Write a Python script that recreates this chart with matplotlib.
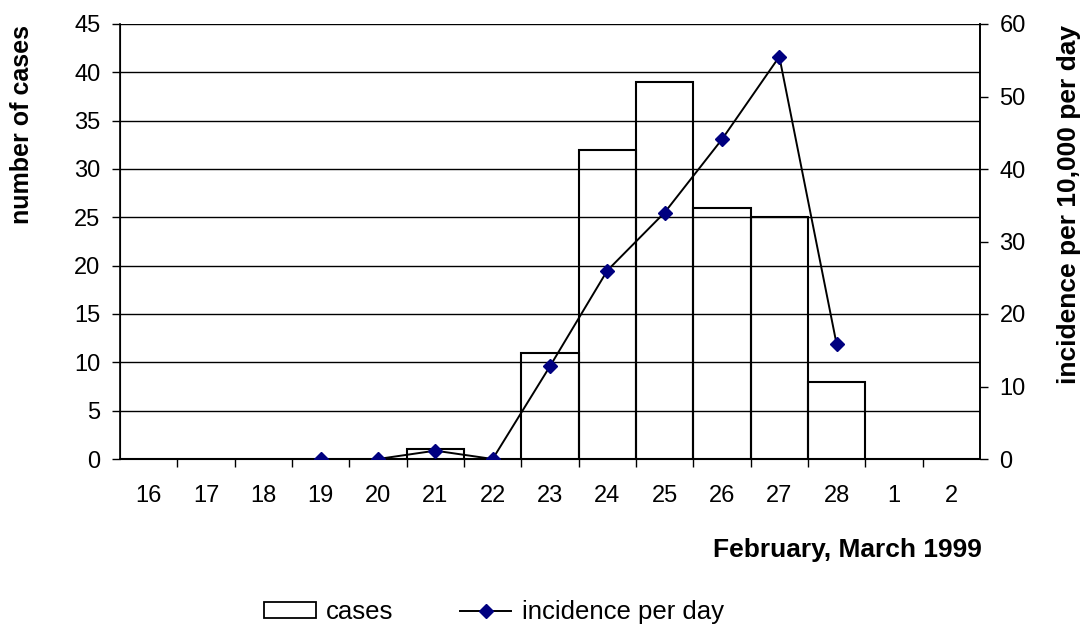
import matplotlib.pyplot as plt
from matplotlib.lines import Line2D
from matplotlib.patches import Patch

plt.rcParams['font.family'] = ['Liberation Sans', 'DejaVu Sans']

days = ['16', '17', '18', '19', '20', '21', '22', '23', '24', '25', '26', '27', '28', '1', '2']
cases = [0, 0, 0, 0, 0, 1, 0, 11, 32, 39, 26, 25, 8, 0, 0]
# incidence per 10,000 per day, only reported 19 Feb - 28 Feb
inc_days = ['19', '20', '21', '22', '23', '24', '25', '26', '27', '28']
incidence = [0, 0, 1.15, 0, 12.8, 26, 34, 44.1, 55.5, 15.8]

fig = plt.figure(figsize=(10.84, 6.28), dpi=100)
ax = fig.add_axes([120 / 1084, 1 - 459 / 628, 860 / 1084, 435 / 628])

x = list(range(len(days)))
ax.bar(x, cases, width=1.0, facecolor='none', edgecolor='black', linewidth=1.5, zorder=3)
ax.set_xlim(-0.5, len(days) - 0.5)
ax.set_ylim(0, 45)
ax.set_yticks(range(0, 46, 5))
ax.yaxis.grid(True, color='black', linewidth=1.0, zorder=0)
ax.set_axisbelow(True)
ax.set_xticks(x)
ax.set_xticklabels(days)
ax.set_xticks([i + 0.5 for i in x[:-1]], minor=True)
ax.tick_params(axis='x', which='major', length=0, pad=19, labelsize=17)
ax.tick_params(axis='x', which='minor', length=6, width=1, direction='out')
ax.tick_params(axis='y', length=6, width=1, labelsize=17, pad=8)
ax.spines['top'].set_visible(False)
for s in ['left', 'bottom', 'right']:
    ax.spines[s].set_linewidth(1.2)

ax2 = ax.twinx()
xi = [days.index(d) for d in inc_days]
ax2.plot(xi, incidence, color='black', linewidth=1.4, marker='D', markersize=7.5,
         markerfacecolor='#000080', markeredgecolor='#000080', zorder=5)
ax2.set_ylim(0, 60)
ax2.set_yticks(range(0, 61, 10))
ax2.tick_params(axis='y', length=6, width=1, labelsize=17, pad=8)
ax2.spines['top'].set_visible(False)
ax2.spines['right'].set_linewidth(1.2)

fig.text(22 / 1084, 1 - 124 / 628, 'number of cases', rotation=90, fontsize=18,
         fontweight='bold', ha='center', va='center')
fig.text(1069 / 1084, 1 - 205 / 628, 'incidence per 10,000 per day', rotation=90,
         fontsize=19, fontweight='bold', ha='center', va='center')
fig.text(982 / 1084, 1 - 550 / 628, 'February, March 1999', fontsize=19,
         fontweight='bold', ha='right', va='center')

handles = [Patch(facecolor='white', edgecolor='black', linewidth=1.3, label='cases'),
           Line2D([0], [0], color='black', linewidth=1.4, marker='D', markersize=7.5,
                  markerfacecolor='#000080', markeredgecolor='#000080',
                  label='incidence per day')]
fig.legend(handles=handles, loc='center', bbox_to_anchor=(494 / 1084, 1 - 612 / 628),
           ncol=2, frameon=False, fontsize=18.5, handlelength=2.0, handleheight=0.55,
           handletextpad=0.4, columnspacing=2.6, borderpad=0)

fig.savefig('out.png', dpi=100)
